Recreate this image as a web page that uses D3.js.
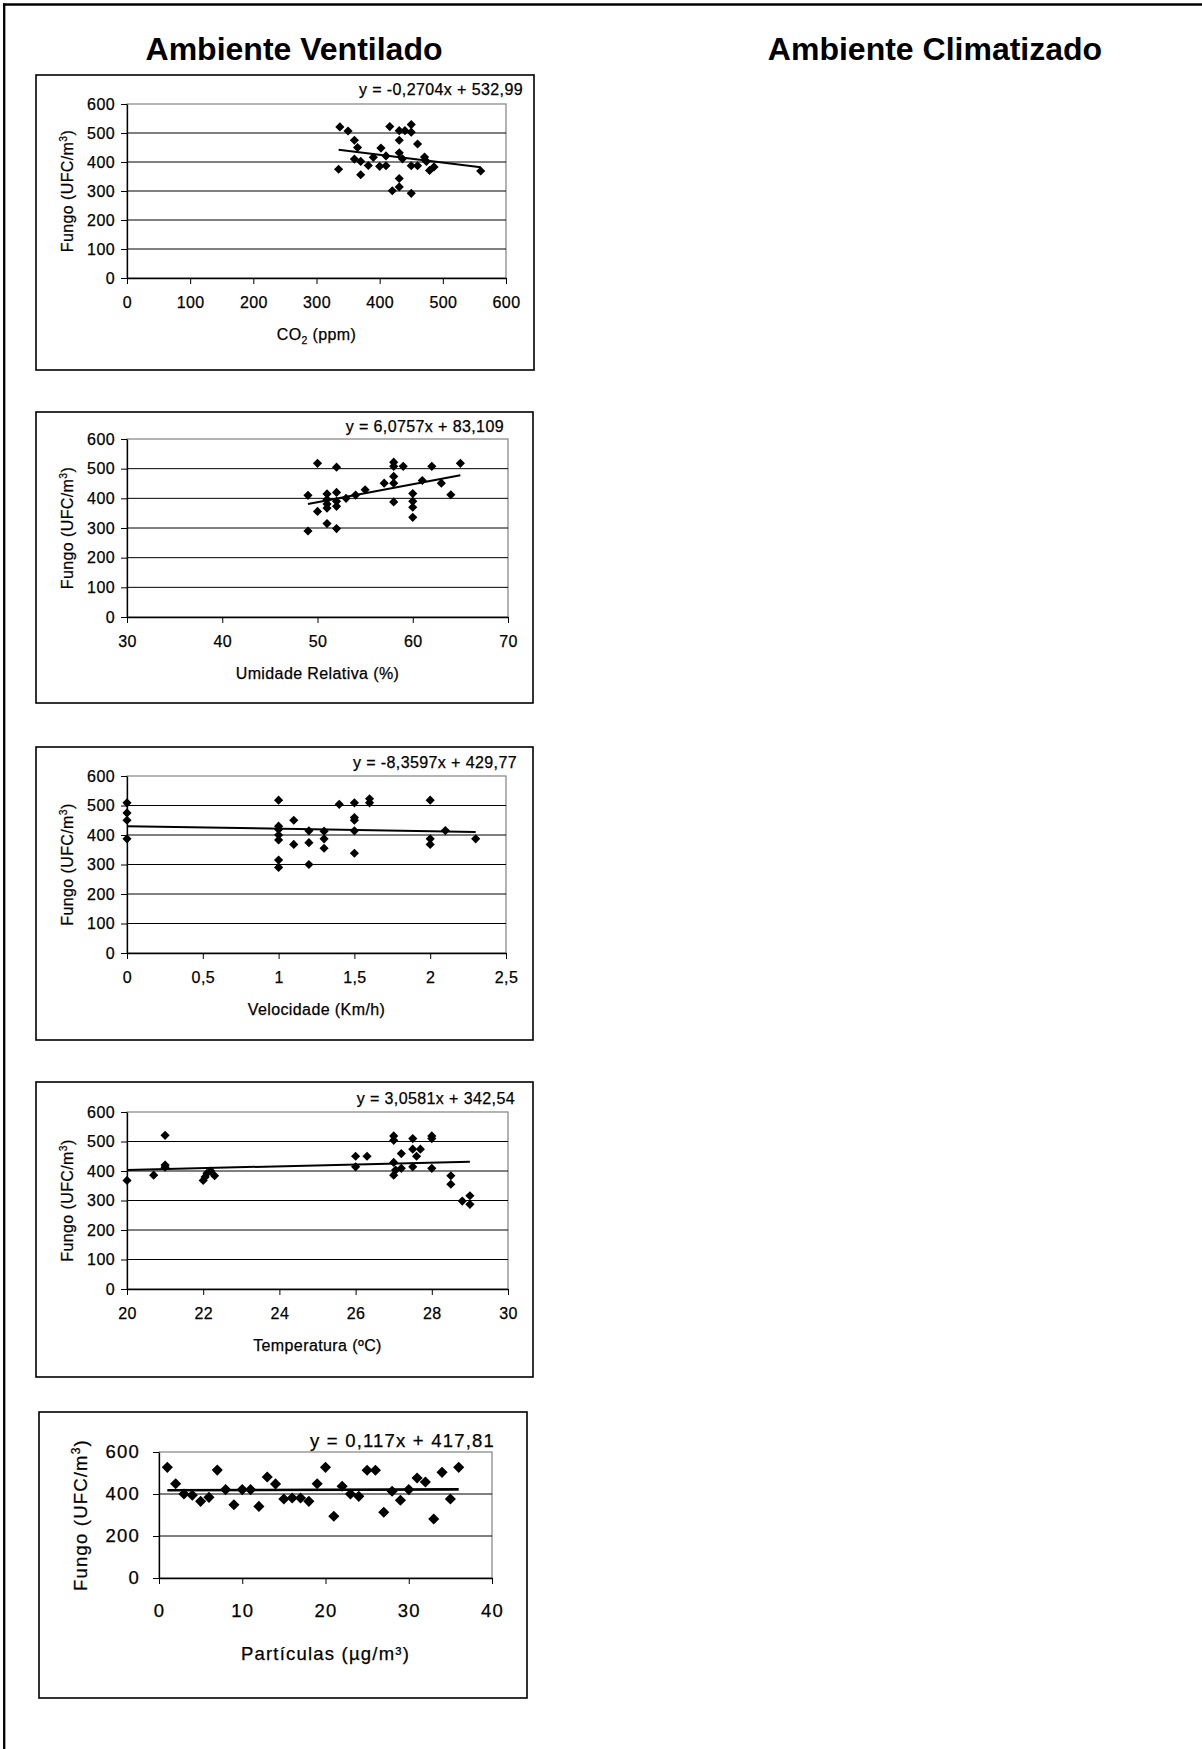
<!DOCTYPE html>
<html>
  <head>
    <meta charset="utf-8">
    <title>Fungo - Ambiente Ventilado</title>
    <script type="text/javascript" src="https://d3js.org/d3.v7.min.js"></script>
    <style type="text/css">
      body { margin: 0; background: #fff; }
      svg text { font-family: "Liberation Sans", Arial, sans-serif; fill: #000; }
      svg text.w { stroke: #000; stroke-width: 0.25px; }
    </style>
  </head>
  <body>
    <script type="text/javascript">
    // CO2 (ppm) x Fungo (UFC/m3)
    var co2X = [335, 337, 350, 360, 365, 360, 370, 370, 382, 390, 402, 400, 410, 410, 416, 420, 431, 431,
                431, 431, 431, 436, 440, 450, 450, 450, 450, 460, 460, 471, 474, 479, 486, 560];
    var co2Y = [375, 521, 507, 475, 450, 410, 402, 356, 388, 416, 448, 385, 387, 421, 522, 301, 508, 475,
                432, 343, 314, 411, 508, 529, 503, 387, 292, 462, 387, 417, 402, 371, 383, 369];
    var co2Trend = [-0.2704, 532.99];

    // Umidade relativa (%)
    var umidX = [49, 49, 50, 50, 51, 51, 51, 51, 51, 52, 52, 52, 52, 52, 53, 54, 55, 57, 58, 58, 58,
                 58, 58, 59, 60, 60, 60, 60, 61, 62, 63, 64, 65];
    var umidY = [410, 290, 518, 356, 415, 396, 381, 367, 315, 505, 420, 390, 373, 298, 400, 411, 429,
                 451, 522, 508, 474, 451, 388, 508, 416, 390, 370, 336, 460, 508, 451, 412, 518];
    var umidTrend = [6.0757, 83.109];

    // Velocidade (Km/h)
    var velX = [0, 0, 0, 0, 1, 1, 1, 1, 1, 1, 1, 1.1, 1.1, 1.2, 1.2, 1.2, 1.3, 1.3, 1.3, 1.4, 1.5, 1.5,
                1.5, 1.5, 1.5, 1.6, 1.6, 2, 2, 2, 2.1, 2.3];
    var velY = [509, 475, 450, 387, 518, 430, 419, 400, 383, 315, 290, 450, 368, 414, 374, 300, 413, 387,
                355, 504, 509, 459, 450, 414, 338, 523, 509, 518, 387, 368, 415, 387];
    var velTrend = [-8.3597, 429.77];

    // Temperatura (ºC)
    var tempX = [20, 20.7, 21, 21, 21, 22, 22.05, 22.1, 22.2, 22.3, 26, 26, 26.3, 27, 27, 27, 27, 27.05,
                 27.2, 27.2, 27.5, 27.5, 27.5, 27.6, 27.7, 28, 28, 28, 28.5, 28.5, 28.8, 29, 29];
    var tempY = [368, 386, 521, 420, 413, 368, 380, 392, 400, 384, 450, 414, 450, 519, 504, 429, 386, 403,
                 459, 409, 510, 474, 414, 450, 474, 519, 510, 409, 384, 355, 298, 316, 287];
    var tempTrend = [3.0581, 342.54];

    // Particulas (ug/m3)
    var partX = [1, 2, 3, 4, 5, 6, 7, 8, 9, 10, 11, 12, 13, 14, 15, 16, 17, 18, 19, 20, 21, 22, 23, 24,
                 25, 26, 27, 28, 29, 30, 31, 32, 33, 34, 35, 36];
    var partY = [527, 449, 400, 394, 365, 384, 514, 421, 349, 421, 421, 341, 481, 448, 376, 381, 381, 365,
                 449, 527, 294, 437, 400, 389, 513, 513, 313, 413, 370, 421, 476, 457, 281, 503, 376, 527];
    var partTrend = [0.117, 417.81];

    // tick labels
    var fungoTicks = [0, 100, 200, 300, 400, 500, 600];
    var fungoTicksBig = [0, 200, 400, 600];
    var co2Ticks = [0, 100, 200, 300, 400, 500, 600];
    var umidTicks = [30, 40, 50, 60, 70];
    var velTicks = [0, 0.5, 1, 1.5, 2, 2.5];
    var tempTicks = [20, 22, 24, 26, 28, 30];
    var partTicks = [0, 10, 20, 30, 40];

    var equations = ["y = -0,2704x + 532,99", "y = 6,0757x + 83,109", "y = -8,3597x + 429,77",
                     "y = 3,0581x + 342,54", "y = 0,117x + 417,81"];

    var widthSVG = 1202;
    var heightSVG = 1749;

    var svg = d3.select("body")
                .append("svg")
                .attr("width", widthSVG)
                .attr("height", heightSVG);

    svg.append("rect").attr("width", widthSVG).attr("height", heightSVG).attr("fill", "#fff");

    // page frame (top and left only)
    svg.append("line").attr("x1", 3).attr("x2", widthSVG).attr("y1", 4.5).attr("y2", 4.5)
       .attr("stroke", "#000").attr("stroke-width", 2.3);
    svg.append("line").attr("x1", 4.2).attr("x2", 4.2).attr("y1", 3.5).attr("y2", heightSVG)
       .attr("stroke", "#000").attr("stroke-width", 2.3);

    svg.append("text").attr("x", 294).attr("y", 60).attr("text-anchor", "middle")
       .attr("font-size", 32).attr("font-weight", "bold").text("Ambiente Ventilado");
    svg.append("text").attr("x", 935).attr("y", 60).attr("text-anchor", "middle")
       .attr("font-size", 32).attr("font-weight", "bold").text("Ambiente Climatizado");

    var charts = [
      { box: [36, 75, 534, 370], plot: [127, 104, 506, 278], xs: co2X, ys: co2Y, trend: co2Trend,
        xDomain: [0, 600], xTicks: co2Ticks, yTicks: fungoTicks, eq: equations[0], eqPos: [523, 95],
        xTitle: ["CO", "2", " (ppm)"], big: false },
      { box: [36, 412, 533, 703], plot: [127, 439, 508, 617], xs: umidX, ys: umidY, trend: umidTrend,
        xDomain: [30, 70], xTicks: umidTicks, yTicks: fungoTicks, eq: equations[1], eqPos: [504, 432],
        xTitle: ["Umidade Relativa (%)"], big: false },
      { box: [36, 747, 533, 1040], plot: [127, 776, 506, 953], xs: velX, ys: velY, trend: velTrend,
        xDomain: [0, 2.5], xTicks: velTicks, yTicks: fungoTicks, eq: equations[2], eqPos: [517, 768],
        xTitle: ["Velocidade (Km/h)"], big: false },
      { box: [36, 1082, 533, 1377], plot: [127, 1112, 508, 1289], xs: tempX, ys: tempY, trend: tempTrend,
        xDomain: [20, 30], xTicks: tempTicks, yTicks: fungoTicks, eq: equations[3], eqPos: [515, 1104],
        xTitle: ["Temperatura (ºC)"], big: false },
      { box: [39, 1412, 527, 1698], plot: [159, 1452, 492, 1578], xs: partX, ys: partY, trend: partTrend,
        xDomain: [0, 40], xTicks: partTicks, yTicks: fungoTicksBig, eq: equations[4], eqPos: [495, 1447],
        xTitle: ["Partículas (µg/m", "³", ")"], big: true }
    ];

    charts.forEach(drawChart);

    function drawChart(c) {
      var fs = c.big ? 18.5 : 16;
      var ls = c.big ? 1.2 : 0.4;
      var g = svg.append("g");

      g.append("rect")
       .attr("x", c.box[0]).attr("y", c.box[1])
       .attr("width", c.box[2] - c.box[0]).attr("height", c.box[3] - c.box[1])
       .attr("fill", "#fff").attr("stroke", "#000").attr("stroke-width", 1.6);

      var xScale = d3.scaleLinear().domain(c.xDomain).range([c.plot[0], c.plot[2]]);
      var yScale = d3.scaleLinear().domain([0, 600]).range([c.plot[3], c.plot[1]]);

      // plot area border (gray)
      g.append("rect")
       .attr("x", c.plot[0]).attr("y", c.plot[1])
       .attr("width", c.plot[2] - c.plot[0]).attr("height", c.plot[3] - c.plot[1])
       .attr("fill", "none").attr("stroke", "#8c8c8c").attr("stroke-width", 1.3);

      // gridlines
      g.selectAll("line.grid")
       .data(c.yTicks.filter(function(d) { return d > 0 && d < 600; }))
       .enter()
       .append("line")
       .attr("class", "grid")
       .attr("x1", c.plot[0]).attr("x2", c.plot[2])
       .attr("y1", function(d) { return yScale(d); })
       .attr("y2", function(d) { return yScale(d); })
       .attr("stroke", "#000").attr("stroke-width", 1);

      var yAxis = d3.axisLeft(yScale).tickValues(c.yTicks).tickSize(6).tickSizeOuter(0)
                    .tickPadding(c.big ? 13 : 6).tickFormat(d3.format("d"));
      var xAxis = d3.axisBottom(xScale).tickValues(c.xTicks).tickSize(6).tickSizeOuter(0)
                    .tickPadding(c.big ? 20 : 13)
                    .tickFormat(function(d) { return String(d).replace(".", ","); });

      var ya = g.append("g").attr("transform", "translate(" + c.plot[0] + ",0)").call(yAxis);
      var xa = g.append("g").attr("transform", "translate(0," + c.plot[3] + ")").call(xAxis);
      [ya, xa].forEach(function(a) {
        a.attr("font-family", null).attr("font-size", fs);
        a.select(".domain").attr("stroke", "#000").attr("stroke-width", 1.3);
        a.selectAll(".tick line").attr("stroke", "#000").attr("stroke-width", 1);
        a.selectAll(".tick text").attr("class", "w").style("letter-spacing", ls + "px");
      });

      // points (diamonds)
      g.selectAll("path.pt")
       .data(d3.range(c.xs.length))
       .enter()
       .append("path")
       .attr("class", "pt")
       .attr("d", d3.symbol().type(d3.symbolSquare).size(c.big ? 62 : 42))
       .attr("transform", function(i) {
         return "translate(" + xScale(c.xs[i]) + "," + yScale(c.ys[i]) + ") rotate(45)";
       })
       .attr("fill", "#000");

      // linear trendline
      var ext = d3.extent(c.xs);
      g.append("line")
       .attr("x1", xScale(ext[0])).attr("y1", yScale(c.trend[0] * ext[0] + c.trend[1]))
       .attr("x2", xScale(ext[1])).attr("y2", yScale(c.trend[0] * ext[1] + c.trend[1]))
       .attr("stroke", "#000").attr("stroke-width", c.big ? 2.6 : 2);

      g.append("text")
       .attr("class", "w")
       .attr("x", c.eqPos[0]).attr("y", c.eqPos[1])
       .attr("text-anchor", "end").attr("font-size", fs)
       .style("letter-spacing", ls + "px")
       .text(c.eq);

      // y title
      var yt = g.append("text")
                .attr("class", "w")
                .attr("transform", "translate(" + (c.plot[0] - (c.big ? 72 : 54)) + "," +
                      ((c.plot[1] + c.plot[3]) / 2) + ") rotate(-90)")
                .attr("text-anchor", "middle").attr("font-size", fs)
                .style("letter-spacing", ls + "px");
      yt.append("tspan").text("Fungo (UFC/m");
      yt.append("tspan").attr("dy", -fs * 0.4).attr("font-size", fs * 0.65).text("3");
      yt.append("tspan").attr("dy", fs * 0.4).text(")");

      // x title
      var xt = g.append("text")
                .attr("class", "w")
                .attr("x", (c.plot[0] + c.plot[2]) / 2)
                .attr("y", c.plot[3] + (c.big ? 82 : 62))
                .attr("text-anchor", "middle").attr("font-size", fs)
                .style("letter-spacing", ls + "px");
      if (c.xTitle.length === 1) {
        xt.text(c.xTitle[0]);
      } else {
        var sub = c.xTitle[1] === "2";
        xt.append("tspan").text(c.xTitle[0]);
        if (sub) {
          xt.append("tspan").attr("dy", fs * 0.25).attr("font-size", fs * 0.65).text(c.xTitle[1]);
          xt.append("tspan").attr("dy", -fs * 0.25).text(c.xTitle[2]);
        } else {
          xt.append("tspan").text(c.xTitle[1]);
          xt.append("tspan").text(c.xTitle[2]);
        }
      }
    }
    </script>
  </body>
</html>
